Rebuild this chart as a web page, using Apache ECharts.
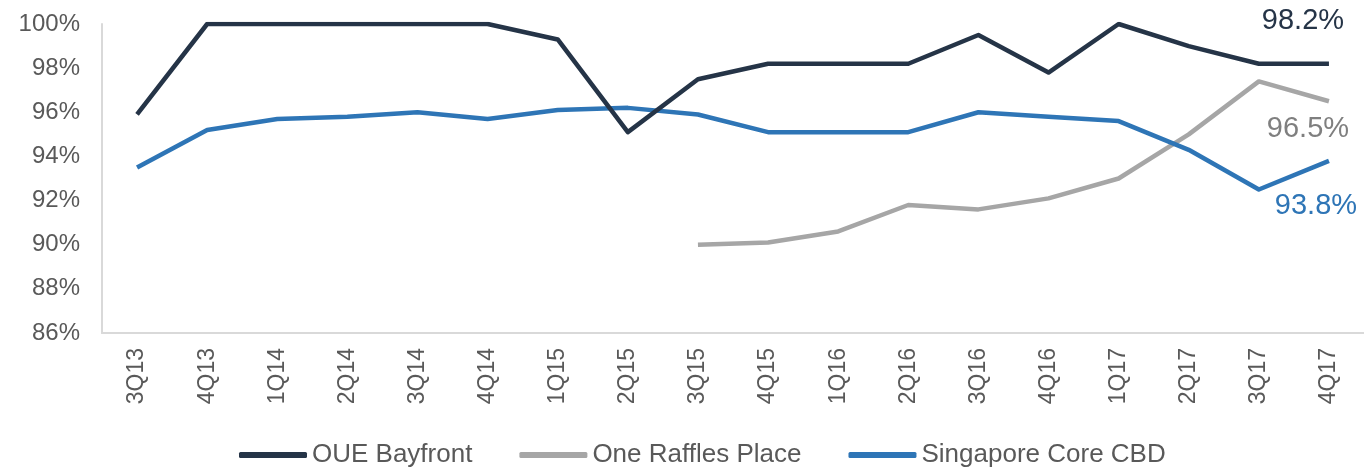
<!DOCTYPE html>
<html>
<head>
<meta charset="utf-8">
<script src="https://cdn.jsdelivr.net/npm/echarts@6/dist/echarts.min.js"></script>
<style>
html,body{margin:0;padding:0;background:#fff;}
#chart{width:1364px;height:467px;}
</style>
</head>
<body>
<div id="chart"></div>
<script>
var categories = ['3Q13','4Q13','1Q14','2Q14','3Q14','4Q14','1Q15','2Q15','3Q15','4Q15','1Q16','2Q16','3Q16','4Q16','1Q17','2Q17','3Q17','4Q17'];
var oueBayfront = [95.9,100,100,100,100,100,99.3,95.1,97.5,98.2,98.2,98.2,99.5,97.8,100,99.0,98.2,98.2];
var oneRafflesPlace = [null,null,null,null,null,null,null,null,90.0,90.1,90.6,91.8,91.6,92.1,93.0,95.0,97.4,96.5];
var singaporeCoreCBD = [93.5,95.2,95.7,95.8,96.0,95.7,96.1,96.2,95.9,95.1,95.1,95.1,96.0,95.8,95.6,94.3,92.5,93.8];
var seriesNames = ['OUE Bayfront','One Raffles Place','Singapore Core CBD'];
var yTicks = {min: 86, max: 100, interval: 2};

var colors = ['#253447','#a6a6a6','#2e75b6'];
var labelColors = ['#253447','#7f7f7f','#2e75b6'];
var labelOffsets = [[-26,-43],[-21,28],[-13,45]];
var allData = [oueBayfront, oneRafflesPlace, singaporeCoreCBD];
var FONT = '"Liberation Sans", Arial, sans-serif';

var chart = echarts.init(document.getElementById('chart'));
var series = allData.map(function(d, i){
  var last = d.length - 1;
  return {
    name: seriesNames[i],
    type: 'line',
    data: d,
    symbol: 'none',
    connectNulls: false,
    lineStyle: {color: colors[i], width: 4.5, join: 'round'},
    itemStyle: {color: colors[i]},
    z: i === 0 ? 4 : (i === 2 ? 3 : 2),
    markPoint: {
      symbol: 'circle',
      symbolSize: 0,
      silent: true,
      animation: false,
      data: [{coord: [categories[last], d[last]], value: d[last]}],
      label: {
        show: true,
        position: 'inside',
        offset: labelOffsets[i],
        formatter: function(p){ return p.value.toFixed(1) + '%'; },
        color: labelColors[i],
        fontFamily: FONT,
        fontSize: 29
      }
    }
  };
});

chart.setOption({
  animation: false,
  backgroundColor: '#ffffff',
  grid: {left: 102, right: -7, top: 24, bottom: 134, containLabel: false},
  legend: {
    left: 234,
    top: 437,
    icon: 'roundRect',
    itemWidth: 68,
    itemHeight: 6,
    itemGap: 47,
    textStyle: {fontFamily: FONT, fontSize: 26, color: '#595959'},
    data: seriesNames
  },
  xAxis: {
    type: 'category',
    data: categories,
    boundaryGap: true,
    axisLine: {show: true, lineStyle: {color: '#d9d9d9', width: 2}},
    axisTick: {show: false},
    axisLabel: {rotate: 90, margin: 15, fontFamily: FONT, fontSize: 23, color: '#595959', interval: 0},
    splitLine: {show: false}
  },
  yAxis: {
    type: 'value',
    min: yTicks.min,
    max: yTicks.max,
    interval: yTicks.interval,
    axisLine: {show: true, lineStyle: {color: '#d9d9d9', width: 2}},
    axisTick: {show: false},
    splitLine: {show: false},
    axisLabel: {formatter: '{value}%', margin: 22, fontFamily: FONT, fontSize: 24, color: '#595959'}
  },
  series: series
});
</script>
</body>
</html>
